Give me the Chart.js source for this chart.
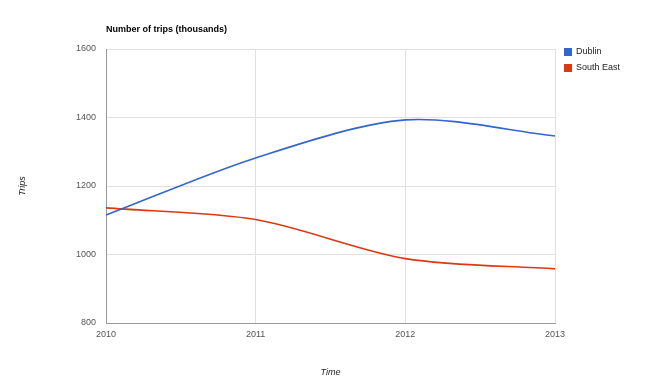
<!DOCTYPE html>
<html lang="en">
  <head>
    <meta charset="UTF-8" />
    <title>Number of trips</title>
    <script src="https://cdn.jsdelivr.net/npm/chart.js@4"></script>
    <style>
      html, body { margin: 0; padding: 0; background: #fff; }
      #wrap { width: 650px; height: 388px; }
    </style>
  </head>
  <body>
    <div id="wrap"><canvas id="chart" width="650" height="388"></canvas></div>
    <script>
      const years = ["2010", "2011", "2012", "2013"];
      const dublin = [1115, 1282, 1393, 1346];
      const southEast = [1136, 1102, 988, 958];
      const yTicks = [800, 1000, 1200, 1400, 1600];

      const chartTitle = "Number of trips (thousands)";
      const font = "Arial, 'Liberation Sans', sans-serif";

      // title + legend drawn by hand to place them like the original
      const extras = {
        id: "extras",
        afterDraw(chart) {
          const ctx = chart.ctx;
          ctx.save();
          ctx.fillStyle = "#000";
          ctx.font = "bold 9px " + font;
          ctx.textBaseline = "middle";
          ctx.textAlign = "left";
          ctx.fillText(chartTitle, 106, 30);

          ctx.font = "9px " + font;
          chart.data.datasets.forEach((ds, i) => {
            const y = 52 + i * 16;
            ctx.fillStyle = ds.borderColor;
            ctx.fillRect(564, y - 4, 8, 8);
            ctx.fillStyle = "#222";
            ctx.fillText(ds.label, 576, y);
          });
          ctx.restore();
        },
      };

      new Chart(document.getElementById("chart"), {
        type: "line",
        data: {
          labels: years,
          datasets: [
            {
              label: "Dublin",
              data: dublin,
              borderColor: "#3366cc",
              backgroundColor: "#3366cc",
              borderWidth: 1.6,
              tension: 0.3,
              pointRadius: 0,
              fill: false,
            },
            {
              label: "South East",
              data: southEast,
              borderColor: "#dc3912",
              backgroundColor: "#dc3912",
              borderWidth: 1.6,
              tension: 0.3,
              pointRadius: 0,
              fill: false,
            },
          ],
        },
        options: {
          responsive: false,
          animation: false,
          layout: { padding: { top: 49, right: 95, bottom: 0, left: 0 } },
          plugins: {
            legend: { display: false },
            title: { display: false },
            tooltip: { enabled: false },
          },
          scales: {
            x: {
              type: "category",
              offset: false,
              afterFit(scale) { scale.height = 65; },
              grid: { color: "#e0e0e0", drawTicks: false },
              border: { color: "#999", width: 1 },
              ticks: {
                color: "#555",
                font: { size: 9, family: font },
                padding: 6,
                maxRotation: 0,
              },
              title: {
                display: true,
                text: "Time",
                color: "#222",
                font: { size: 9, family: font, style: "italic" },
                padding: { top: 0, bottom: 10 },
              },
            },
            y: {
              min: yTicks[0],
              max: yTicks[yTicks.length - 1],
              afterFit(scale) { scale.width = 106; },
              afterBuildTicks(scale) {
                scale.ticks = yTicks.map((v) => ({ value: v }));
              },
              grid: { color: "#e0e0e0", drawTicks: false },
              border: { color: "#999", width: 1 },
              ticks: {
                color: "#555",
                font: { size: 9, family: font },
                padding: 10,
                callback: (v) => String(v),
              },
              title: {
                display: true,
                text: "Trips",
                color: "#222",
                font: { size: 9, family: font, style: "italic" },
                padding: { top: 17, bottom: 0 },
              },
            },
          },
        },
        plugins: [extras],
      });
    </script>
  </body>
</html>
